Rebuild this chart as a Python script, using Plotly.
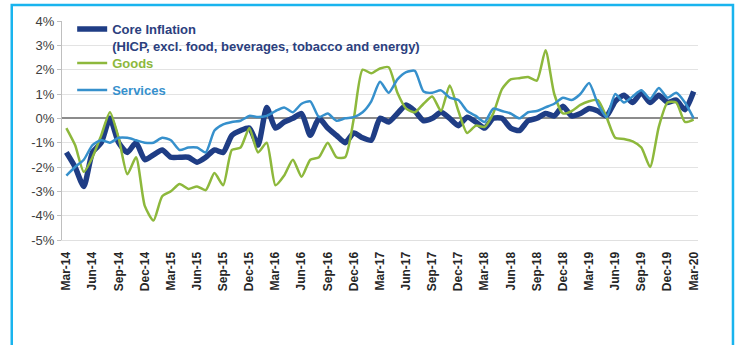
import pandas as pd
import plotly.graph_objects as go

# Monthly observations, Mar-14 .. Mar-20 (y/y %, percentage points)
months = list(pd.date_range("2014-03-01", periods=73, freq="MS").strftime("%b-%y"))

core = [
    -1.4, -2.0, -2.8, -1.4, -1.0, 0.0, -1.0, -1.4, -1.0, -1.7,
    -1.5, -1.3, -1.6, -1.6, -1.6, -1.8, -1.6, -1.3, -1.4, -0.7,
    -0.5, -0.4, -1.1, 0.45, -0.4, -0.15, 0.0, 0.2, -0.7, 0.0,
    -0.4, -0.7, -1.0, -0.6, -0.8, -0.9, 0.0, -0.15, 0.2, 0.55,
    0.3, -0.1, 0.0, 0.25, 0.0, -0.3, 0.05, -0.15, -0.4, 0.0,
    0.0, -0.4, -0.5, -0.1, 0.0, 0.2, 0.1, 0.5, 0.1, 0.2,
    0.4, 0.3, 0.1, 0.7, 0.95, 0.65, 1.05, 0.65, 0.95, 0.65,
    0.75, 0.35, 1.1,
]

goods = [
    -0.4, -1.1, -2.2, -1.6, -0.7, 0.25, -0.8, -2.3, -1.6, -3.6,
    -4.2, -3.2, -3.0, -2.7, -2.9, -2.8, -2.95, -2.25, -2.75, -1.3,
    -1.2, -0.4, -1.4, -1.0, -2.75, -2.35, -1.7, -2.4, -1.7, -1.6,
    -1.0, -1.6, -1.6, 0.0, 2.0, 1.85, 2.05, 2.1, 1.05, 0.4,
    0.25, 0.6, 0.9, 0.3, 1.35, 0.3, -0.6, -0.3, -0.35, 0.2,
    1.2, 1.6, 1.65, 1.7, 1.55, 2.8, 1.0, 0.2, 0.3, 0.55,
    0.7, 0.75, 0.05, -0.8, -0.85, -0.95, -1.2, -2.0, -0.35, 0.65,
    0.65, -0.15, -0.05,
]

services = [
    -2.35, -2.0, -1.7, -1.1, -0.9, -1.0, -0.8, -0.8, -0.9, -1.0,
    -1.0, -0.8, -0.9, -1.3, -1.2, -1.2, -1.4, -0.5, -0.25, -0.15,
    -0.1, 0.1, 0.05, 0.1, 0.3, 0.45, 0.25, 0.6, 0.7, 0.05,
    0.2, -0.1, 0.0, 0.05, 0.25, 0.7, 1.5, 1.05, 1.6, 1.9,
    1.95, 1.1, 1.05, 1.15, 0.85, 0.75, 0.3, 0.1, -0.15, 0.4,
    0.3, 0.2, 0.0, 0.25, 0.3, 0.45, 0.6, 0.85, 0.75, 1.0,
    1.45, 0.6, 0.05, 1.0, 0.65, 0.9, 1.15, 0.8, 1.25, 0.85,
    1.05, 0.65, 0.0,
]

y_ticks = [4, 3, 2, 1, 0, -1, -2, -3, -4, -5]
y_labels = [f"{v}%" for v in y_ticks]

NAVY = "#1F3D85"
GREEN = "#8DB83C"
BLUE = "#3690CC"
FONT = "Liberation Sans, Arial, sans-serif"
LEGEND_X = 0.016


def legend_name(text, color):
    return f"<span style='color:{color}'><b>{text}</b></span>"


def legend_box(y, anchor):
    return dict(
        x=LEGEND_X, y=y, xanchor="left", yanchor=anchor,
        bgcolor="rgba(0,0,0,0)", borderwidth=0,
        font=dict(family=FONT, size=13),
        itemwidth=30, valign="top",
    )


fig = go.Figure()
fig.add_trace(go.Scatter(
    x=months, y=core, mode="lines", legend="legend",
    name=legend_name("Core Inflation<br>(HICP, excl. food, beverages, tobacco and energy)", "#2B407E"),
    line=dict(color=NAVY, width=5.5, shape="spline", smoothing=0.6),
))
fig.add_trace(go.Scatter(
    x=months, y=goods, mode="lines", legend="legend2",
    name=legend_name("Goods", GREEN),
    line=dict(color=GREEN, width=2.5, shape="spline", smoothing=0.6),
))
fig.add_trace(go.Scatter(
    x=months, y=services, mode="lines", legend="legend3",
    name=legend_name("Services", BLUE),
    line=dict(color=BLUE, width=2.5, shape="spline", smoothing=0.6),
))

# outer frame of the panel
fig.add_shape(type="rect", xref="paper", yref="paper",
              x0=-0.079, x1=1.055, y0=-0.6, y1=1.073,
              line=dict(color="#19B4EE", width=2.5), fillcolor="rgba(0,0,0,0)",
              layer="below")

fig.update_layout(
    width=737, height=345,
    margin=dict(l=62, r=39, t=21, b=105),
    paper_bgcolor="white", plot_bgcolor="white",
    font=dict(family=FONT, size=12, color="#404040"),
    showlegend=True,
    legend=legend_box(1.032, "top"),
    legend2=legend_box(0.808, "middle"),
    legend3=legend_box(0.685, "middle"),
    xaxis=dict(
        type="category", range=[-0.5, 72.5],
        tickmode="array", tickvals=months[::3], ticktext=months[::3],
        tickangle=-90, tickfont=dict(family=FONT, size=12, color="#262626", weight="bold"),
        ticklabelstandoff=6,
        showgrid=False, showline=True, linecolor="#E0E0E0", linewidth=1,
        ticks="", zeroline=False,
    ),
    yaxis=dict(
        range=[-5, 4], tickmode="array", tickvals=y_ticks, ticktext=y_labels,
        tickfont=dict(family=FONT, size=13, color="#404040"),
        showgrid=True, gridcolor="#E3E3E3", gridwidth=1,
        zeroline=True, zerolinecolor="#8C8C8C", zerolinewidth=1.5,
        showline=True, linecolor="#BFBFBF", linewidth=1,
        ticks="outside", ticklen=4, tickcolor="#BFBFBF",
    ),
)

fig.write_html("out.html")
